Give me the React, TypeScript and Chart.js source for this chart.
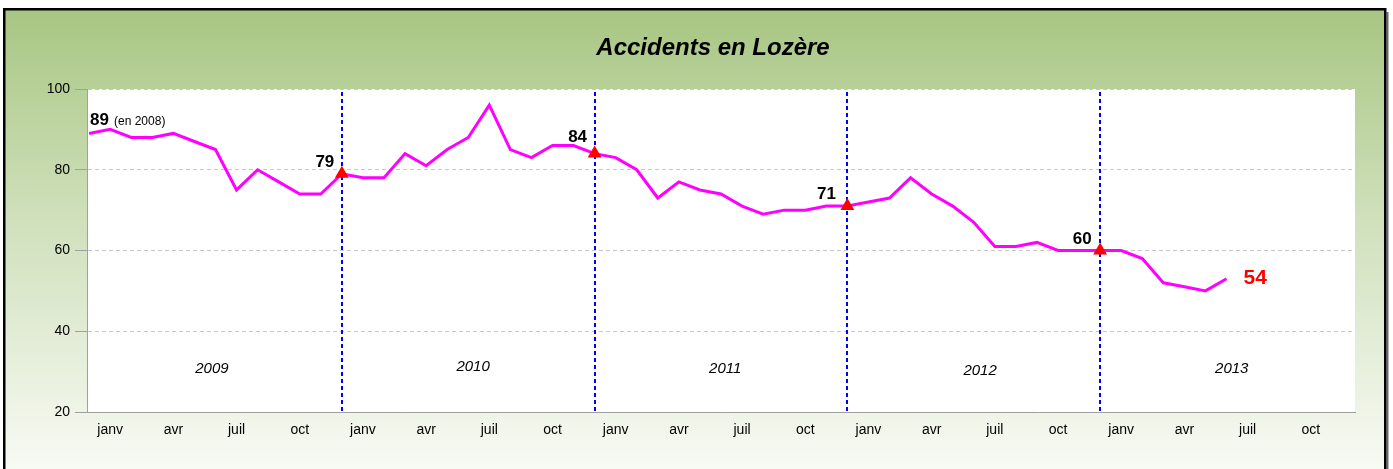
import React, { useEffect, useRef } from 'react';
import { Chart, registerables } from 'chart.js';

Chart.register(...registerables);

const W = 1393;
const H = 469;

// Rolling 12-month accident totals, Dec 2008 .. Jun 2013 (index 0 = déc 2008)
const monthlyValues = [
  89, 90, 88, 88, 89, 87, 85, 75, 80, 77, 74, 74, 79,
  78, 78, 84, 81, 85, 88, 96, 85, 83, 86, 86, 84,
  83, 80, 73, 77, 75, 74, 71, 69, 70, 70, 71, 71,
  72, 73, 78, 74, 71, 67, 61, 61, 62, 60, 60, 60,
  60, 58, 52, 51, 50, 53,
];

const tickMonthNames = ['janv', 'avr', 'juil', 'oct'];
const tickPositions = [1, 4, 7, 10, 13, 16, 19, 22, 25, 28, 31, 34, 37, 40, 43, 46, 49, 52, 55, 58];
const yearNames = ['2009', '2010', '2011', '2012', '2013'];
const yearEndIndex = [12, 24, 36, 48];
const yearEndLabels = ['79', '84', '71', '60'];
const firstLabel = '89';
const firstLabelNote = '(en 2008)';
const lastLabel = '54';

// Positions of the italic year names (x in month index, y in axis units)
const yearNameX = [5.83, 18.23, 30.2, 42.3, 54.25];
const yearNameY = [30.65, 31.1, 30.65, 30.2, 30.65];
// Pixel offsets of year-end value labels from their point
const yearEndLabelOffsets = [[-17, -11], [-17, -16], [-21, -12], [-18, -11]];

const FONT = "'Liberation Sans', Arial, sans-serif";

const backgroundPlugin = {
  id: 'bgFrame',
  beforeDraw(chart: any) {
    const ctx = chart.ctx;
    ctx.save();
    ctx.fillStyle = '#ffffff';
    ctx.fillRect(0, 0, W, H);
    const g = ctx.createLinearGradient(0, 10, 0, H);
    g.addColorStop(0, '#a8c683');
    g.addColorStop(0.45, '#cfe0bb');
    g.addColorStop(1, '#f8faf4');
    ctx.fillStyle = g;
    ctx.fillRect(5, 10, 1380, H);
    ctx.fillStyle = '#6a6a6a';
    ctx.fillRect(1386.5, 12, 2, H);
    ctx.strokeStyle = '#000000';
    ctx.lineWidth = 2.5;
    ctx.strokeRect(4.25, 9.25, 1381, H + 20);
    const { left, top, right, bottom } = chart.chartArea;
    ctx.fillStyle = '#ffffff';
    ctx.fillRect(left, top, right - left, bottom - top);
    ctx.restore();
  },
};

const yearLinesPlugin = {
  id: 'yearLines',
  beforeDatasetsDraw(chart: any) {
    const ctx = chart.ctx;
    const xs = chart.scales.x;
    const { top, bottom } = chart.chartArea;
    ctx.save();
    ctx.strokeStyle = '#0000ff';
    ctx.lineWidth = 2;
    ctx.setLineDash([4, 3]);
    yearEndIndex.forEach((i) => {
      const x = Math.round(xs.getPixelForValue(i));
      ctx.beginPath();
      ctx.moveTo(x, top + 3);
      ctx.lineTo(x, bottom);
      ctx.stroke();
    });
    ctx.restore();
  },
};

const labelsPlugin = {
  id: 'valueLabels',
  afterDatasetsDraw(chart: any) {
    const ctx = chart.ctx;
    const xs = chart.scales.x;
    const ys = chart.scales.y;
    ctx.save();
    ctx.textBaseline = 'middle';

    // year names
    ctx.fillStyle = '#000000';
    ctx.textAlign = 'center';
    ctx.font = `italic 15px ${FONT}`;
    yearNames.forEach((t, i) => {
      ctx.fillText(t, xs.getPixelForValue(yearNameX[i]), ys.getPixelForValue(yearNameY[i]));
    });

    // year-end value labels
    ctx.font = `bold 17px ${FONT}`;
    yearEndIndex.forEach((idx, i) => {
      const x = xs.getPixelForValue(idx) + yearEndLabelOffsets[i][0];
      const y = ys.getPixelForValue(monthlyValues[idx]) + yearEndLabelOffsets[i][1];
      ctx.fillText(yearEndLabels[i], x, y);
    });

    // first label
    ctx.textAlign = 'left';
    ctx.textBaseline = 'alphabetic';
    const x0 = xs.getPixelForValue(0) + 1;
    const y0 = ys.getPixelForValue(monthlyValues[0]) - 8;
    ctx.font = `bold 17px ${FONT}`;
    ctx.fillText(firstLabel, x0, y0);
    const w = ctx.measureText(firstLabel).width;
    ctx.font = `12px ${FONT}`;
    ctx.fillText(firstLabelNote, x0 + w + 5, y0);

    // last label
    const last = monthlyValues.length - 1;
    ctx.textBaseline = 'middle';
    ctx.fillStyle = '#ff0000';
    ctx.font = `bold 21px ${FONT}`;
    ctx.fillText(lastLabel, xs.getPixelForValue(last) + 17, ys.getPixelForValue(monthlyValues[last]) - 1);
    ctx.restore();
  },
};

export default function App() {
  const ref = useRef<HTMLCanvasElement | null>(null);

  useEffect(() => {
    if (!ref.current) return;
    const chart = new Chart(ref.current, {
      type: 'line',
      data: {
        datasets: [
          {
            label: 'fin d\'année',
            data: yearEndIndex.map((i) => ({ x: i, y: monthlyValues[i] })),
            showLine: false,
            pointStyle: 'triangle',
            pointRadius: 8,
            pointHoverRadius: 8,
            pointBackgroundColor: '#ff0000',
            pointBorderColor: '#ff0000',
            pointBorderWidth: 0,
            backgroundColor: '#ff0000',
            borderColor: '#ff0000',
          },
          {
            label: 'Accidents',
            data: monthlyValues.map((v, i) => ({ x: i, y: v })),
            borderColor: '#ff00ff',
            backgroundColor: '#ff00ff',
            borderWidth: 3,
            tension: 0,
            pointRadius: 0,
            borderJoinStyle: 'miter',
          },
        ],
      },
      options: {
        animation: false,
        responsive: false,
        maintainAspectRatio: false,
        layout: { padding: { left: 33, right: 0, top: 0, bottom: 0 } },
        plugins: {
          legend: { display: false },
          tooltip: { enabled: false },
          title: {
            display: true,
            text: 'Accidents en Lozère',
            color: '#000000',
            font: { family: FONT, size: 24, weight: 'bold', style: 'italic', lineHeight: 1.2 },
            padding: { top: 34, bottom: 26.2 },
          },
        },
        scales: {
          x: {
            type: 'linear',
            min: -0.1,
            max: 60.1,
            afterFit: (s: any) => {
              s.height = 57;
            },
            afterBuildTicks: (s: any) => {
              s.ticks = tickPositions.map((v) => ({ value: v }));
            },
            grid: { display: false, drawTicks: false },
            border: { display: true, color: '#a0a0a0', width: 1 },
            ticks: {
              autoSkip: false,
              maxRotation: 0,
              padding: 10,
              color: '#000000',
              font: { family: FONT, size: 14 },
              callback: (_v: any, i: number) => tickMonthNames[i % 4],
            },
          },
          y: {
            position: 'left',
            min: 20,
            max: 100,
            afterFit: (s: any) => {
              s.width = 54;
            },
            grid: {
              color: '#c8c8c8',
              lineWidth: 1,
              drawTicks: true,
              tickLength: 12,
              tickColor: '#a0a0a0',
              tickWidth: 1,
            },
            border: { display: true, color: '#a0a0a0', width: 1, dash: [4, 3] },
            ticks: {
              stepSize: 20,
              padding: 5,
              color: '#000000',
              font: { family: FONT, size: 14 },
            },
          },
          yRightSpace: {
            type: 'linear',
            position: 'right',
            min: 0,
            max: 1,
            afterFit: (s: any) => {
              s.width = 38;
            },
            grid: { display: false, drawTicks: false },
            border: { display: false },
            ticks: { display: false },
          },
        },
      },
      plugins: [backgroundPlugin, yearLinesPlugin, labelsPlugin],
    } as any);
    return () => chart.destroy();
  }, []);

  return (
    <div style={{ position: 'absolute', left: 0, top: 0, width: W, height: H }}>
      <canvas ref={ref} width={W} height={H} style={{ width: W, height: H, display: 'block' }} />
    </div>
  );
}
